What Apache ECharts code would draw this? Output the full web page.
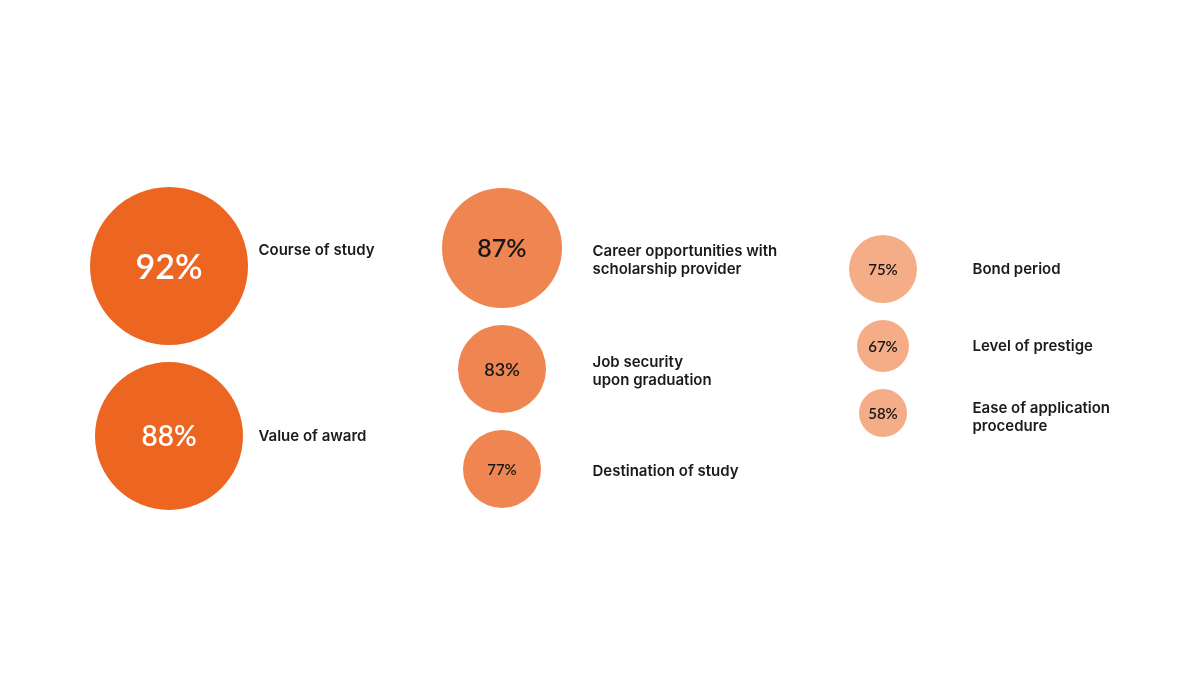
<!DOCTYPE html>
<html>
<head>
<meta charset="utf-8">
<script src="https://cdn.jsdelivr.net/npm/echarts@6/dist/echarts.min.js"></script>
<style>
  html, body { margin: 0; background: #fff; }
  #chart { width: 1200px; height: 700px; }
</style>
</head>
<body>
<div id="chart"></div>
<script>
// data
var factors = ['Course of study', 'Value of award', 'Career opportunities with\nscholarship provider',
  'Job security\nupon graduation', 'Destination of study', 'Bond period', 'Level of prestige',
  'Ease of application\nprocedure'];
var shares = [92, 88, 87, 83, 77, 75, 67, 58];
var group = [0, 0, 1, 1, 1, 2, 2, 2];

// layout / style
var colX = [169, 502, 883];
var labelX = [258, 592, 972];
var colTop = [187, 188, 235];
var gap = 17;
var sizes = [158, 148, 120, 88, 78, 68, 52, 48];
var pctFont = [34, 28, 25, 18, 15, 15, 15, 15];
var nameDy = [-16, 0, 12, 2, 2, 0, 0, 4];
var colColor = ['#EC6622', '#EF8550', '#F5AD87'];
var pctColor = ['#ffffff', '#161616', '#161616'];

var cursor = colTop.slice();
var bubbles = [], names = [];
shares.forEach(function (v, i) {
  var g = group[i];
  var cy = cursor[g] + sizes[i] / 2;
  cursor[g] += sizes[i] + gap;
  bubbles.push({
    value: [colX[g], cy, v],
    symbolSize: sizes[i],
    itemStyle: { color: colColor[g], opacity: 1 },
    label: { fontSize: pctFont[i], color: pctColor[g], offset: [0, i === 0 ? 2 : 1] }
  });
  names.push({ value: [labelX[g], cy + nameDy[i]], name: factors[i] });
});

var chart = echarts.init(document.getElementById('chart'));
chart.setOption({
  animation: false,
  backgroundColor: '#ffffff',
  grid: { left: 0, right: 0, top: 0, bottom: 0 },
  xAxis: { type: 'value', min: 0, max: 1200, show: false },
  yAxis: { type: 'value', min: 0, max: 700, inverse: true, show: false },
  series: [
    {
      type: 'scatter',
      silent: true,
      data: bubbles,
      label: {
        show: true,
        position: 'inside',
        fontFamily: 'Lato',
        fontWeight: 600,
        formatter: function (p) { return p.value[2] + '%'; }
      }
    },
    {
      type: 'scatter',
      silent: true,
      symbolSize: 1,
      itemStyle: { color: 'rgba(0,0,0,0)', opacity: 1 },
      data: names,
      label: {
        show: true,
        position: 'right',
        distance: 0,
        align: 'left',
        fontFamily: 'Inter',
        fontWeight: 600,
        fontSize: 15,
        lineHeight: 18,
        color: '#1a1a1a',
        formatter: function (p) { return p.name; }
      }
    }
  ]
});
</script>
</body>
</html>
